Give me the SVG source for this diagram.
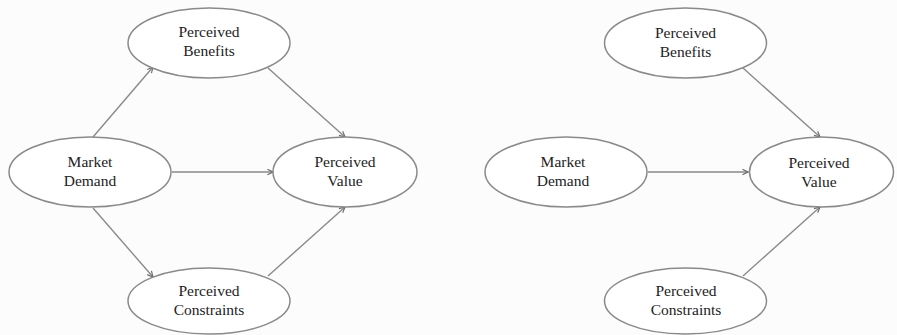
<svg xmlns="http://www.w3.org/2000/svg" width="897" height="335" viewBox="0 0 897 335">
<style>
.n{fill:#ffffff;stroke:#8a8a8a;stroke-width:1.5}
.t{font-family:"Liberation Serif","Times New Roman",serif;font-size:15.5px;fill:#222;text-anchor:middle}
.c{stroke:#8a8a8a;stroke-width:1.4;fill:none;marker-end:url(#ah)}
</style>
<defs>
<marker id="ah" viewBox="0 0 10 10" refX="9" refY="5" markerWidth="7" markerHeight="7" markerUnits="userSpaceOnUse" orient="auto">
<path d="M1,1 L9,5 L1,9" fill="none" stroke="#6a6a6a" stroke-width="1.6"/>
</marker>
</defs>
<rect width="897" height="335" fill="#fcfcfc"/>
<g id="connectors">
<line class="c" x1="93" y1="137" x2="153" y2="67"/>
<line class="c" x1="268" y1="68" x2="345" y2="137"/>
<line class="c" x1="172" y1="172" x2="273" y2="172"/>
<line class="c" x1="93" y1="208" x2="153" y2="277"/>
<line class="c" x1="268" y1="276" x2="345" y2="207"/>
<line class="c" x1="743" y1="68" x2="820" y2="137"/>
<line class="c" x1="648" y1="172" x2="748" y2="172"/>
<line class="c" x1="743" y1="276" x2="820" y2="207"/>
</g>
<g id="L-benefits"><ellipse class="n" cx="209" cy="43" rx="81" ry="35"/><text class="t" x="209" y="37">Perceived</text><text class="t" x="209" y="56">Benefits</text></g>
<g id="L-demand"><ellipse class="n" cx="90" cy="172" rx="81" ry="35"/><text class="t" x="90" y="167">Market</text><text class="t" x="90" y="186">Demand</text></g>
<g id="L-value"><ellipse class="n" cx="345" cy="172" rx="72" ry="35"/><text class="t" x="345" y="167">Perceived</text><text class="t" x="345" y="186">Value</text></g>
<g id="L-constraints"><ellipse class="n" cx="209" cy="301" rx="81" ry="33"/><text class="t" x="209" y="296">Perceived</text><text class="t" x="209" y="315">Constraints</text></g>
<g id="R-benefits"><ellipse class="n" cx="685.5" cy="43" rx="81" ry="35"/><text class="t" x="685.5" y="38">Perceived</text><text class="t" x="685.5" y="57">Benefits</text></g>
<g id="R-demand"><ellipse class="n" cx="566" cy="172" rx="81" ry="35"/><text class="t" x="563" y="167">Market</text><text class="t" x="563" y="186">Demand</text></g>
<g id="R-value"><ellipse class="n" cx="821.5" cy="172" rx="72" ry="35"/><text class="t" x="819" y="168">Perceived</text><text class="t" x="819" y="187">Value</text></g>
<g id="R-constraints"><ellipse class="n" cx="685.5" cy="301" rx="81" ry="33"/><text class="t" x="686" y="296">Perceived</text><text class="t" x="686" y="315">Constraints</text></g>
</svg>
